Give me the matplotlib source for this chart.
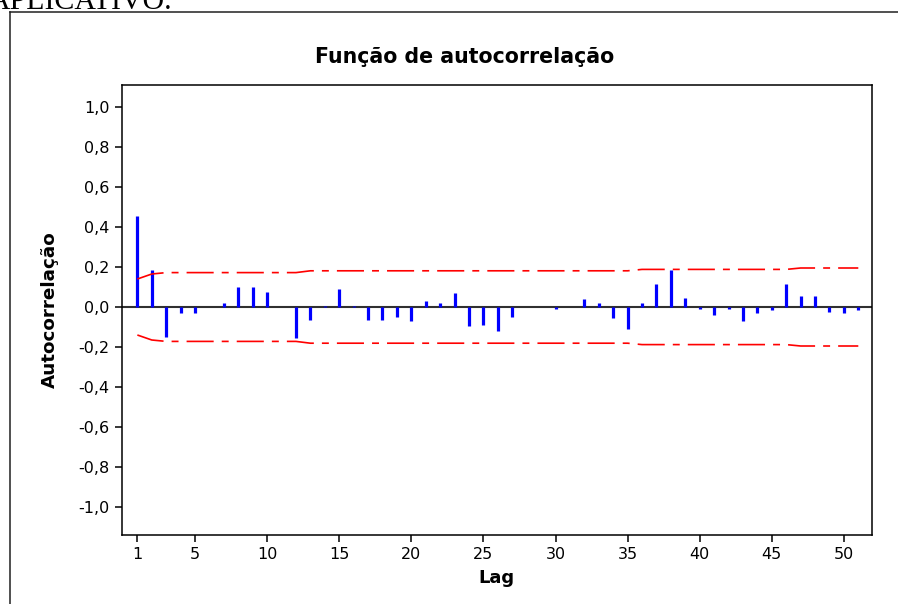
import matplotlib
matplotlib.use("Agg")
import matplotlib.pyplot as plt
from matplotlib.lines import Line2D

# Data
lags = list(range(1, 52))
acf = [0.457, 0.187, -0.150, -0.032, -0.032, 0.0, 0.022, 0.100, 0.100, 0.077,
       0.0, -0.157, -0.063, 0.007, 0.092, 0.007, -0.063, -0.063, -0.048, -0.072,
       0.032, 0.022, 0.070, -0.097, -0.088, -0.120, -0.048, 0.0, 0.0, -0.010,
       0.0, 0.038, 0.022, -0.057, -0.110, 0.022, 0.117, 0.187, 0.045, -0.010,
       -0.040, -0.010, -0.072, -0.032, -0.017, 0.117, 0.053, 0.053, -0.025, -0.032,
       -0.017]
upper = ([0.140, 0.165] + [0.172] * 10 + [0.181] * 23 + [0.188] * 11 + [0.195] * 5)
lower = [-u for u in upper]
xticks = [1, 5, 10, 15, 20, 25, 30, 35, 40, 45, 50]
yticks = [-1.0, -0.8, -0.6, -0.4, -0.2, 0.0, 0.2, 0.4, 0.6, 0.8, 1.0]

plt.rcParams['font.family'] = 'DejaVu Sans'
plt.rcParams['lines.scale_dashes'] = False

W, H = 898, 604
fig = plt.figure(figsize=(W / 100, H / 100), dpi=100)
ax = fig.add_axes([121.5 / W, 1 - 535 / H, (872 - 121.5) / W, (535 - 85) / H])

ax.axhline(0, color='#303030', lw=1.5, zorder=1)
ax.vlines(lags, 0, acf, color='#0000ff', lw=2.3, zorder=2)
dash = (0, (19.5, 5.8, 5.0, 5.8))
ax.plot(lags, upper, color='#ff0000', lw=1.2, linestyle=dash, zorder=3)
ax.plot(lags, lower, color='#ff0000', lw=1.2, linestyle=dash, zorder=3)

ax.set_xlim(-0.1, 51.95)
ax.set_ylim(-1.14, 1.11)
ax.set_xticks(xticks)
ax.set_xticklabels([str(t) for t in xticks])
ax.set_yticks(yticks)
ax.set_yticklabels([f"{t:.1f}".replace('.', ',') for t in yticks])
ax.tick_params(direction='out', length=5, width=1.1, labelsize=11.5, color='black')
for s in ax.spines.values():
    s.set_linewidth(1.1)

fig.text(465 / W, 1 - 57 / H, 'Função de autocorrelação', ha='center', va='center',
         fontsize=14.8, fontweight='bold')
ax.set_xlabel('Lag', fontsize=13, fontweight='bold', labelpad=5)
ax.set_ylabel('Autocorrelação', fontsize=13.2, fontweight='bold', labelpad=14)

# surrounding frame and cut-off heading from the page
fig.add_artist(Line2D([10 / W, 1.0], [1 - 12 / H] * 2, transform=fig.transFigure,
                      color='#202020', lw=1.1))
fig.add_artist(Line2D([10 / W] * 2, [0.0, 1 - 12 / H], transform=fig.transFigure,
                      color='#202020', lw=1.1))
fig.text(172 / W, 1 - 9 / H, 'APLICATIVO.', ha='right', va='baseline',
         fontsize=21.5, family='Liberation Serif')

fig.savefig('out.png', dpi=100)
